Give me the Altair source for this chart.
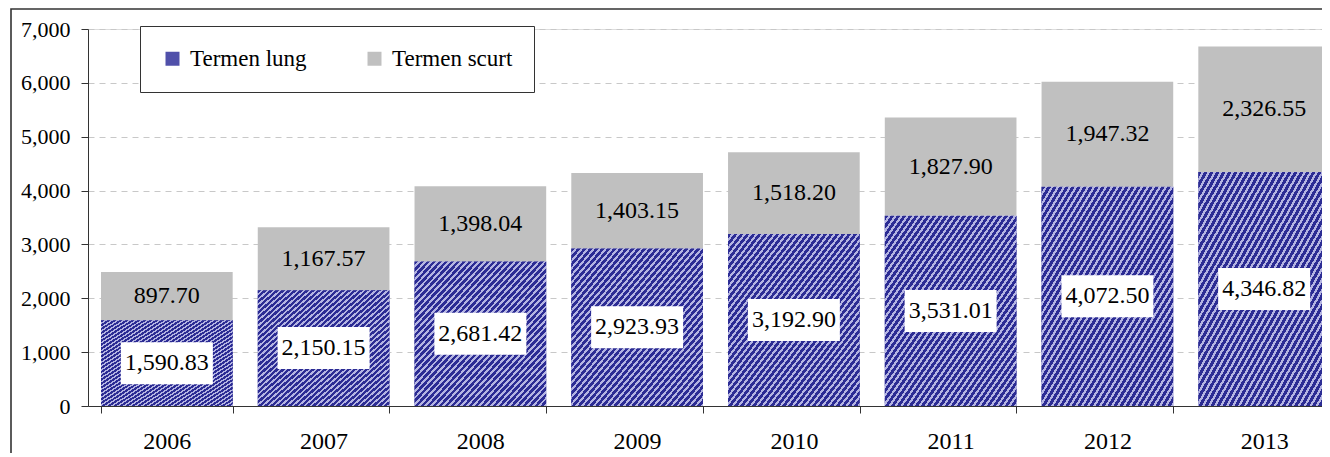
import altair as alt
import pandas as pd

# ---- data ----
years = ["2006", "2007", "2008", "2009", "2010", "2011", "2012", "2013"]
termen_lung = [1590.83, 2150.15, 2681.42, 2923.93, 3192.90, 3531.01, 4072.50, 4346.82]
termen_scurt = [897.70, 1167.57, 1398.04, 1403.15, 1518.20, 1827.90, 1947.32, 2326.55]
series_names = ["Termen lung", "Termen scurt"]
y_ticks = [0, 1000, 2000, 3000, 4000, 5000, 6000, 7000]

rows = []
for yr, lg, sc in zip(years, termen_lung, termen_scurt):
    rows.append({"An": yr, "Serie": series_names[0], "start": 0.0, "end": lg, "val": lg})
    rows.append({"An": yr, "Serie": series_names[1], "start": lg, "end": lg + sc, "val": sc})
df = pd.DataFrame(rows)
df["mid"] = (df["start"] + df["end"]) / 2
df["label"] = df["val"].map(lambda v: f"{v:,.2f}")

FONT = "Liberation Serif"
DARK = "#2c2c94"
LIGHT = "#b4b4e2"

# diagonal hatch approximated with a striped linear gradient
N = 44
stops = []
for k in range(N):
    a, b, c = k / N, (k + 0.58) / N, (k + 1) / N
    stops += [
        {"offset": a, "color": DARK},
        {"offset": b, "color": DARK},
        {"offset": b, "color": LIGHT},
        {"offset": c, "color": LIGHT},
    ]
hatch = alt.LinearGradient(gradient="linear", stops=stops, x1=0, y1=0, x2=1, y2=1)

x_enc = alt.X(
    "An:N",
    sort=years,
    scale=alt.Scale(paddingInner=0.16, paddingOuter=0.083),
    axis=alt.Axis(
        title=None, labelAngle=0, tickBand="extent", tickSize=7, labelPadding=16,
        labelFont=FONT, labelFontSize=24, labelColor="black",
        domainColor="#333333", tickColor="#333333", grid=False,
    ),
)
y_scale = alt.Scale(domain=[0, 7000], nice=False)
y_enc = alt.Y(
    "start:Q",
    scale=y_scale,
    axis=alt.Axis(
        title=None, values=y_ticks, format=",.0f", tickSize=7, labelPadding=11,
        labelFont=FONT, labelFontSize=22, labelColor="black",
        domainColor="#333333", tickColor="#333333",
        grid=True, gridDash=[6, 5], gridColor="#c8c8c8", gridWidth=1,
    ),
)

base = alt.Chart(df)

bars = base.mark_bar().encode(
    x=x_enc,
    y=y_enc,
    y2="end:Q",
    color=alt.Color(
        "Serie:N",
        scale=alt.Scale(domain=series_names, range=["#5050aa", "#c0c0c0"]),
        legend=alt.Legend(
            title=None, orient="none", legendX=52, legendY=-3, direction="horizontal",
            labelFont=FONT, labelFontSize=23, labelColor="black",
            symbolType="square", symbolSize=196, symbolStrokeWidth=0,
            labelOffset=6, columnPadding=56, padding=21,
            strokeColor="#333333", fillColor="white",
        ),
    ),
)

hatched = base.transform_filter(alt.datum.Serie == series_names[0]).mark_bar(fill=hatch).encode(
    x=alt.X("An:N", sort=years),
    y=alt.Y("start:Q"),
    y2="end:Q",
)

boxes = base.transform_filter(alt.datum.Serie == series_names[0]).mark_point(
    shape="M-1,-0.457H1V0.457H-1Z", size=92 * 92, filled=True, fill="white",
    opacity=1, strokeWidth=0,
).encode(
    x=alt.X("An:N", sort=years),
    y=alt.Y("mid:Q"),
)

labels = base.mark_text(font=FONT, fontSize=24, color="black", baseline="middle").encode(
    x=alt.X("An:N", sort=years),
    y=alt.Y("mid:Q"),
    text="label:N",
)

frame = alt.Chart(pd.DataFrame({"f": [0]})).mark_rect(
    fillOpacity=0, stroke="#333333", strokeWidth=1.6
).encode(
    x=alt.value(-77), x2=alt.value(1400), y=alt.value(-20), y2=alt.value(600)
)

# svg: 80 + 1255 - 21 = 1314 wide (fits the 1330 window with its 8px margins)
chart = alt.layer(bars, hatched, boxes, labels, frame).properties(
    width=1255,
    height=377,
    autosize="none",
    padding={"left": 80, "top": 21, "right": -21, "bottom": 47},
).configure_view(stroke=None).configure(background="white")

chart.save("out.html", embed_options={"renderer": "svg", "actions": False})
